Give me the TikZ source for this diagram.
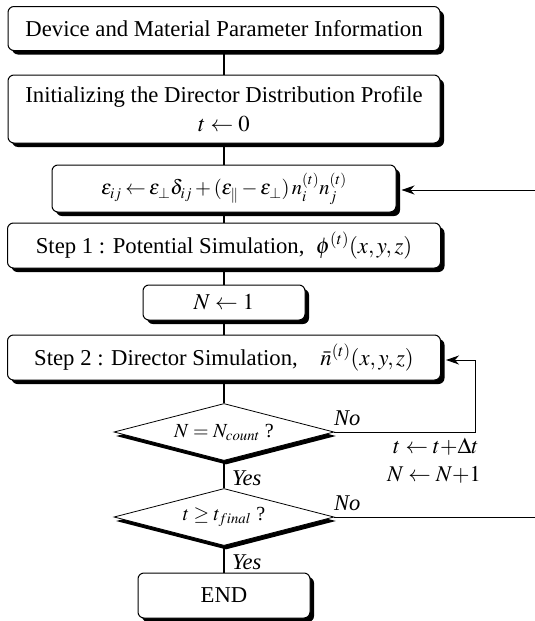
\documentclass[tikz,border=0pt]{standalone}
\usepackage{mathptmx}
\usepackage{fontspec}
\setmainfont{Liberation Serif}
\usetikzlibrary{shapes.geometric,shadows,arrows.meta,calc}
\begin{document}
\begin{tikzpicture}[x=1pt,y=-1pt,
  font=\fontsize{22.7}{29}\selectfont,
  box/.style={draw, line width=1pt, rounded corners=6pt, fill=white, inner sep=0pt, align=center,
     drop shadow={shadow xshift=4pt, shadow yshift=-4pt, fill=black, opacity=1}},
  dia/.style={draw, diamond, line width=0.8pt, fill=white, inner sep=0pt,
     minimum width=220pt, minimum height=57pt, font=\fontsize{20}{24}\selectfont,
     drop shadow={shadow xshift=2pt, shadow yshift=-4pt, fill=black, opacity=1}},
  conn/.style={line width=1.7pt},
  fb/.style={line width=1pt},
  arr/.style={line width=1pt, -{Stealth[length=13pt,width=9pt,inset=4pt]}},
  lbl/.style={font=\fontsize{22.5}{26}\selectfont\itshape, inner sep=0pt}]
\useasboundingbox (0,0) rectangle (535,621);

\node[box, minimum width=432pt, minimum height=44pt] (b1) at (224,28.5)
  {Device and Material Parameter Information};
\node[box, minimum width=432pt, minimum height=68pt] (b2) at (224,109)
  {Initializing the Director Distribution Profile\\ $t \leftarrow 0$};
\node[box, minimum width=344pt, minimum height=47pt, font=\fontsize{20.5}{24}\selectfont] (b3) at (224,188.5)
  {$\thickmuskip=3mu \medmuskip=2.5mu \varepsilon_{ij} \leftarrow \varepsilon_{\perp}\delta_{ij} + (\varepsilon_{\parallel} - \varepsilon_{\perp})\, n_i^{(t)} n_j^{(t)}$};
\node[box, minimum width=433pt, minimum height=45pt] (s1) at (224,245.5)
  {Step 1 : Potential Simulation,\ \ $\phi^{(t)}(x, y, z)$};
\node[box, minimum width=162pt, minimum height=35pt] (n1) at (224,302.5)
  {$N \leftarrow 1$};
\node[box, minimum width=433pt, minimum height=45pt] (s2) at (224,357.5)
  {Step 2 : Director Simulation,\quad $\bar{n}^{(t)}(x, y, z)$};
\node[dia] (d1) at (224,432) {\makebox[0pt]{$N = N_{count}$ ?}};
\node[dia] (d2) at (224,517) {\makebox[0pt]{$t \ge t_{final}$ ?}};
\node[box, minimum width=172pt, minimum height=45pt] (e) at (224,595.5) {END};

\draw[conn] (b1.south) -- (b2.north);
\draw[conn] (b2.south) -- (b3.north);
\draw[conn] (b3.south) -- (s1.north);
\draw[conn] (s1.south) -- (n1.north);
\draw[conn] (n1.south) -- (s2.north);
\draw[conn] (s2.south) -- (d1.north);
\draw[conn] (d1.south) -- (d2.north);
\draw[conn] (d2.south) -- (e.north);

\coordinate (r0) at (535,190);
\coordinate (r1) at (475,432);
\coordinate (r2) at (535,517);
\draw[arr] (r0) -- ([xshift=5pt,yshift=-1.5pt]b3.east);
\draw[arr] (d1.east) -- (r1) |- ([xshift=5pt,yshift=-2.5pt]s2.east);
\draw[fb] (d2.east) -- (r2);

\node[lbl, anchor=west] (no1) at (334,418) {No};
\node[lbl] (upd1) at (436,447) {$t \leftarrow t{+}\Delta t$};
\node[lbl] (upd2) at (434,475) {$N \leftarrow N{+}1$};
\node[lbl, anchor=west] (yes1) at (232,478) {Yes};
\node[lbl, anchor=west] (no2) at (334,503) {No};
\node[lbl, anchor=west] (yes2) at (232,562) {Yes};
\end{tikzpicture}
\end{document}
